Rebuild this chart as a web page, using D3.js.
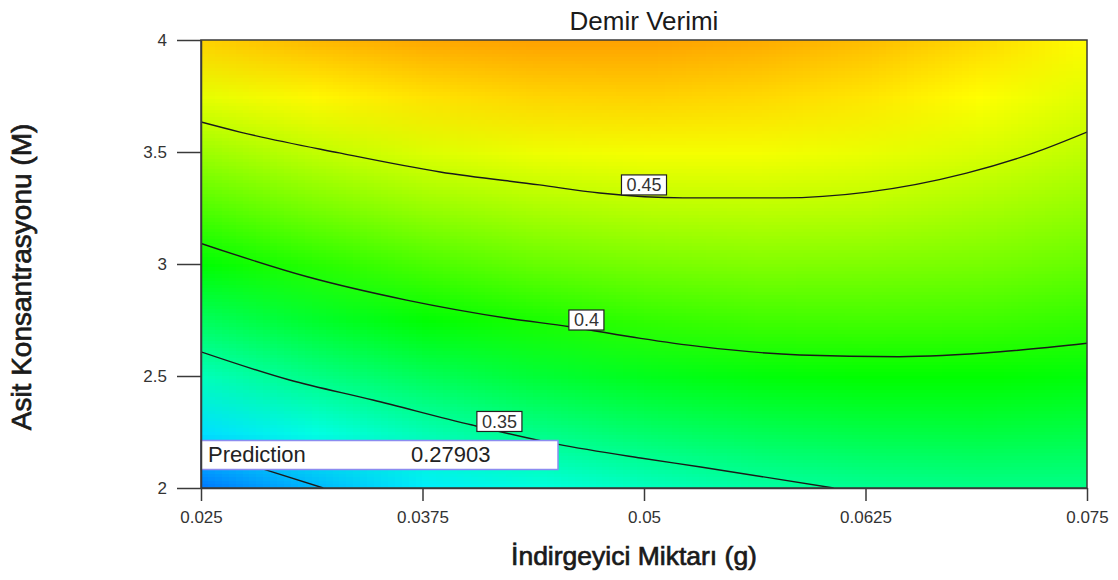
<!DOCTYPE html>
<html>
<head>
<meta charset="utf-8">
<script src="https://cdnjs.cloudflare.com/ajax/libs/d3/7.8.5/d3.min.js"></script>
<style>
body { margin: 0; background: #fff; }
svg { display: block; font-family: Arial, "Liberation Sans", sans-serif; }
</style>
</head>
<body>
<script>

// axis ticks
var xTicks = [0.025, 0.0375, 0.05, 0.0625, 0.075];
var xTickLabels = ["0.025", "0.0375", "0.05", "0.0625", "0.075"];
var yTicks = [2, 2.5, 3, 3.5, 4];
var yTickLabels = ["2", "2.5", "3", "3.5", "4"];

// response surface (Demir Verimi) on a 9 x 9 grid
var gridX = [0.025, 0.03125, 0.0375, 0.04375, 0.05, 0.05625, 0.0625, 0.06875, 0.075];
var gridY = [4, 3.75, 3.5, 3.25, 3, 2.75, 2.5, 2.25, 2];
var gridValues = [
  [0.478, 0.485, 0.490, 0.492, 0.492, 0.489, 0.484, 0.476, 0.465],
  [0.458, 0.467, 0.473, 0.477, 0.478, 0.476, 0.472, 0.465, 0.456],
  [0.437, 0.447, 0.455, 0.460, 0.462, 0.462, 0.459, 0.454, 0.446],
  [0.415, 0.426, 0.435, 0.441, 0.445, 0.446, 0.445, 0.440, 0.434],
  [0.391, 0.403, 0.413, 0.421, 0.426, 0.429, 0.428, 0.426, 0.421],
  [0.365, 0.379, 0.391, 0.399, 0.406, 0.410, 0.411, 0.410, 0.406],
  [0.338, 0.353, 0.366, 0.376, 0.384, 0.389, 0.392, 0.392, 0.389],
  [0.309, 0.326, 0.340, 0.352, 0.361, 0.367, 0.371, 0.373, 0.371],
  [0.279, 0.297, 0.313, 0.326, 0.336, 0.344, 0.349, 0.352, 0.352]
];

// colour ramp stops (blue, cyan, green, yellow, red)
var colorStops = [0.2444, 0.318, 0.392, 0.465, 0.539];
var colorNames = ["#0000ff", "#00ffff", "#00ff00", "#ffff00", "#ff0000"];

// contour lines, points as [x, y]
var contour30 = [[0.025, 2.174], [0.0287, 2.080], [0.0319, 2.0]];
var contour35 = [[0.025, 2.608], [0.0300, 2.482], [0.0347, 2.393], [0.0403, 2.281],
                 [0.0451, 2.196], [0.0498, 2.134], [0.0532, 2.094], [0.0607, 2.0]];
var contour40 = [[0.025, 3.092], [0.0310, 2.943], [0.0366, 2.839], [0.0423, 2.758],
                 [0.0458, 2.720], [0.0498, 2.668], [0.0532, 2.631], [0.0588, 2.594],
                 [0.0644, 2.586], [0.0701, 2.608], [0.075, 2.646]];
var contour45 = [[0.025, 3.634], [0.0272, 3.589], [0.0328, 3.496], [0.0385, 3.411],
                 [0.0441, 3.353], [0.0475, 3.317], [0.0522, 3.295], [0.0578, 3.295],
                 [0.0626, 3.321], [0.0682, 3.406], [0.0720, 3.496], [0.075, 3.589]];

var labelTexts = ["0.35", "0.4", "0.45"];
var labelX = [0.04184, 0.04675, 0.0500];
var labelY = [2.297, 2.750, 3.353];

var predictionName = "Prediction";
var predictionValue = "0.27903";

window.onload = function() {

    const margin = {
        top: 40,
        right: 31,
        bottom: 92,
        left: 201
    };

    const width = 1118 - margin.left - margin.right;
    const height = 580 - margin.top - margin.bottom;

    var root = d3.select("body").append("svg")
        .attr("width", 1118)
        .attr("height", 580);

    var svg = root.append("g")
        .attr("transform", "translate(" + margin.left + "," + margin.top + ")");

    var xScale = d3.scaleLinear()
        .domain([0.025, 0.075])
        .range([0, width]);

    var yScale = d3.scaleLinear()
        .domain([2, 4])
        .range([height, 0]);

    var color = d3.scaleLinear()
        .domain(colorStops)
        .range(colorNames)
        .clamp(true);

    svg.append("clipPath")
        .attr("id", "plotClip")
        .append("rect")
        .attr("width", width)
        .attr("height", height);

    // paint the grid into a tiny canvas, then let the browser smooth it up
    var nx = gridX.length, ny = gridY.length;
    var canvas = document.createElement("canvas");
    canvas.width = nx;
    canvas.height = ny;
    var ctx = canvas.getContext("2d");
    var img = ctx.createImageData(nx, ny);
    gridValues.forEach(function(row, j) {
        row.forEach(function(v, i) {
            var c = d3.rgb(color(v));
            var k = (j * nx + i) * 4;
            img.data[k] = c.r;
            img.data[k + 1] = c.g;
            img.data[k + 2] = c.b;
            img.data[k + 3] = 255;
        });
    });
    ctx.putImageData(img, 0, 0);

    var cw = xScale(gridX[1]) - xScale(gridX[0]);
    var ch = yScale(gridY[1]) - yScale(gridY[0]);

    var plot = svg.append("g").attr("clip-path", "url(#plotClip)");

    plot.append("image")
        .attr("href", canvas.toDataURL())
        .attr("x", xScale(gridX[0]) - cw / 2)
        .attr("y", yScale(gridY[0]) - ch / 2)
        .attr("width", cw * nx)
        .attr("height", ch * ny)
        .attr("preserveAspectRatio", "none");

    var line = d3.line()
        .x(function(d) { return xScale(d[0]); })
        .y(function(d) { return yScale(d[1]); })
        .curve(d3.curveMonotoneX);

    plot.selectAll(".contour")
        .data([contour30, contour35, contour40, contour45])
        .enter()
        .append("path")
        .attr("class", "contour")
        .attr("d", line)
        .attr("fill", "none")
        .attr("stroke", "#1a1a1a")
        .attr("stroke-width", 1.4);

    // contour labels
    var labels = svg.selectAll(".clabel")
        .data(labelTexts)
        .enter()
        .append("g")
        .attr("class", "clabel")
        .attr("transform", function(d, i) {
            return "translate(" + xScale(labelX[i]) + "," + yScale(labelY[i]) + ")";
        });

    labels.append("text")
        .attr("text-anchor", "middle")
        .attr("dy", "0.36em")
        .attr("font-size", "18px")
        .attr("fill", "#333")
        .text(function(d) { return d; });

    labels.each(function() {
        var g = d3.select(this);
        var bb = g.select("text").node().getBBox();
        g.insert("rect", "text")
            .attr("x", -bb.width / 2 - 5)
            .attr("y", -10)
            .attr("width", bb.width + 10)
            .attr("height", 20)
            .attr("fill", "white")
            .attr("stroke", "#222")
            .attr("stroke-width", 1.2);
    });

    // prediction flag at the corner point
    var px = xScale(0.025), py = yScale(2);
    var pred = svg.append("g")
        .attr("transform", "translate(" + px + "," + (py - 47.5) + ")");

    pred.append("rect")
        .attr("width", 357)
        .attr("height", 29)
        .attr("fill", "white")
        .attr("stroke", "#8c8cf0")
        .attr("stroke-width", 1.5);

    pred.append("text")
        .attr("x", 7)
        .attr("y", 21.5)
        .attr("font-size", "22px")
        .attr("fill", "#222")
        .text(predictionName);

    pred.append("text")
        .attr("x", 210)
        .attr("y", 21.5)
        .attr("font-size", "22px")
        .attr("fill", "#222")
        .text(predictionValue);

    // frame
    svg.append("rect")
        .attr("width", width)
        .attr("height", height)
        .attr("fill", "none")
        .attr("stroke", "#3a3a3a")
        .attr("stroke-width", 1.5);

    var xAxis = svg.append("g")
        .attr("transform", "translate(0," + height + ")")
        .call(d3.axisBottom(xScale)
            .tickValues(xTicks)
            .tickFormat(function(d, i) { return xTickLabels[i]; })
            .tickSize(13)
            .tickSizeOuter(0)
            .tickPadding(10));

    var yAxis = svg.append("g")
        .call(d3.axisLeft(yScale)
            .tickValues(yTicks)
            .tickFormat(function(d, i) { return yTickLabels[i]; })
            .tickSize(24)
            .tickSizeOuter(0)
            .tickPadding(10));

    [xAxis, yAxis].forEach(function(ax) {
        ax.select(".domain").attr("stroke", "#3a3a3a").attr("stroke-width", 1.5);
        ax.selectAll(".tick line").attr("stroke", "#3a3a3a").attr("stroke-width", 1.5);
        ax.selectAll(".tick text")
            .attr("font-size", "17px")
            .attr("font-family", "Arial, 'Liberation Sans', sans-serif")
            .attr("fill", "#333");
    });

    // titles
    root.append("text")
        .attr("x", margin.left + width / 2)
        .attr("y", 30)
        .attr("text-anchor", "middle")
        .attr("font-size", "26px")
        .attr("fill", "#1a1a1a")
        .text("Demir Verimi");

    root.append("text")
        .attr("x", 634)
        .attr("y", 565)
        .attr("text-anchor", "middle")
        .attr("font-size", "26.5px")
        .attr("fill", "#1a1a1a")
        .attr("stroke", "#1a1a1a")
        .attr("stroke-width", 0.7)
        .text("İndirgeyici Miktarı (g)");

    root.append("text")
        .attr("transform", "translate(31,277) rotate(-90)")
        .attr("text-anchor", "middle")
        .attr("font-size", "28px")
        .attr("fill", "#1a1a1a")
        .attr("stroke", "#1a1a1a")
        .attr("stroke-width", 0.7)
        .text("Asit Konsantrasyonu (M)");
};

</script>
</body>
</html>
